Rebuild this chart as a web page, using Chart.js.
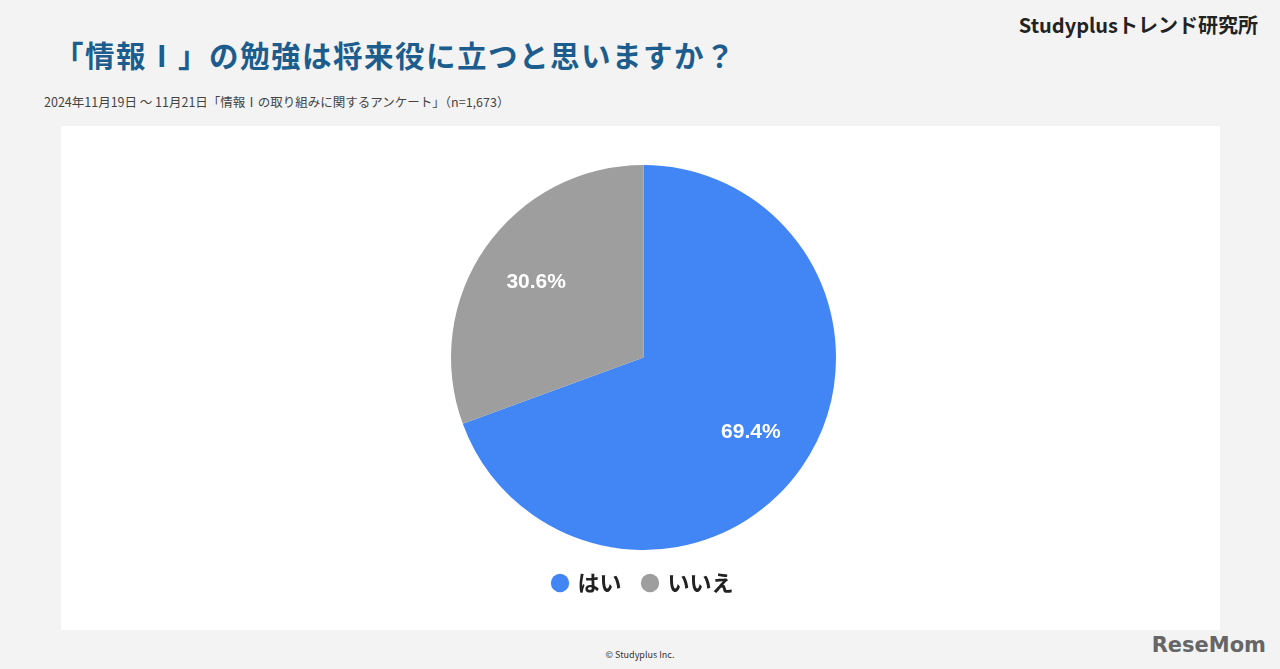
<!DOCTYPE html>
<html><head><meta charset="utf-8">
<script src="https://cdn.jsdelivr.net/npm/chart.js@4.4.1/dist/chart.umd.min.js"></script>
<style>
body{margin:0;width:1280px;height:669px;background:#f3f3f3;font-family:"Noto Sans CJK JP","Noto Sans",sans-serif;position:relative;overflow:hidden}
#title{position:absolute;left:54px;top:33px;font-size:29.5px;font-weight:bold;color:#1c5d8e;letter-spacing:1.5px}
#sub{position:absolute;left:44px;top:92px;font-size:12.5px;color:#444}
#brand{position:absolute;right:22px;top:10px;font-size:20px;font-weight:bold;color:#222}
#panel{position:absolute;left:61px;top:126px;width:1159px;height:504px;background:#fff}
#copy{position:absolute;left:0;width:1280px;top:648px;text-align:center;font-size:9px;color:#333}
#logo{position:absolute;right:14px;top:633px;font-size:21px;font-weight:bold;color:#666;font-family:"DejaVu Sans"}
</style></head><body>
<div id="brand">Studyplusトレンド研究所</div>
<div id="title">「情報Ⅰ」の勉強は将来役に立つと思いますか？</div>
<div id="sub">2024年11月19日 〜 11月21日「情報Ⅰの取り組みに関するアンケート」（n=1,673）</div>
<div id="panel"><canvas id="c" width="1159" height="504"></canvas></div>
<div id="copy">© Studyplus Inc.</div>
<div id="logo">ReseMom</div>
<script>
const categories = ["はい", "いいえ"];
const values = [69.4, 30.6];
const colors = ["#4285f4", "#9e9e9e"];

const sliceLabels = {
  id: "sliceLabels",
  afterDatasetsDraw(chart) {
    const ctx = chart.ctx;
    chart.getDatasetMeta(0).data.forEach((arc, i) => {
      const mid = (arc.startAngle + arc.endAngle) / 2;
      const r = arc.outerRadius * 0.68;
      ctx.save();
      ctx.fillStyle = "#fff";
      ctx.font = "bold 21px 'Liberation Sans', Arial, sans-serif";
      ctx.textAlign = "center";
      ctx.textBaseline = "middle";
      ctx.fillText(values[i].toFixed(1) + "%", arc.x + Math.cos(mid) * r, arc.y + Math.sin(mid) * r);
      ctx.restore();
    });
  }
};

new Chart(document.getElementById("c"), {
  type: "pie",
  data: {
    labels: categories,
    datasets: [{ data: values, backgroundColor: colors, borderWidth: 0 }]
  },
  options: {
    responsive: false,
    animation: false,
    devicePixelRatio: 1,
    layout: { padding: { top: 39, bottom: 26, left: 6 } },
    plugins: {
      tooltip: { enabled: false },
      legend: {
        position: "bottom",
        labels: {
          usePointStyle: true,
          pointStyle: "circle",
          boxWidth: 13,
          boxHeight: 13,
          padding: 22,
          color: "#222",
          font: { size: 22, weight: "bold", family: "'Noto Sans CJK JP'" }
        }
      }
    }
  },
  plugins: [sliceLabels]
});
</script>
</body></html>
